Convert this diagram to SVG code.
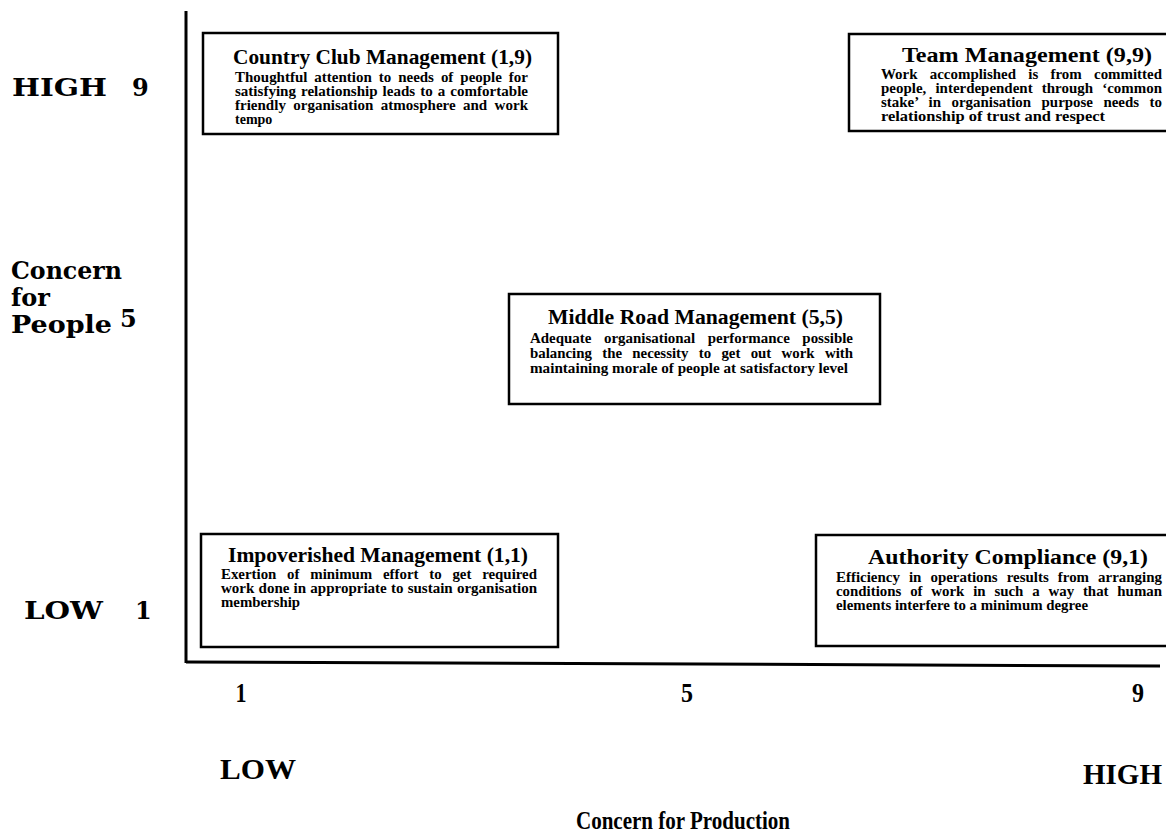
<svg xmlns="http://www.w3.org/2000/svg" width="1166" height="835" viewBox="0 0 1166 835">
  <style>
    .box { fill: #ffffff; stroke: #000000; stroke-width: 2.5; }
    .title { font-family: "Liberation Serif", "Times New Roman", serif; font-weight: bold; font-size: 20px; fill: #000; }
    .body { font-family: "Liberation Serif", "Times New Roman", serif; font-weight: bold; font-size: 14px; fill: #000; }
    .axis-label { font-family: "DejaVu Serif", serif; font-weight: bold; font-size: 24px; fill: #000; }
    .tick { font-family: "Liberation Serif", "Times New Roman", serif; font-weight: bold; font-size: 27px; fill: #000; }
    .scale-word { font-family: "Liberation Serif", "Times New Roman", serif; font-weight: bold; font-size: 29px; fill: #000; }
    .axis-title { font-family: "Liberation Serif", "Times New Roman", serif; font-weight: bold; font-size: 26px; fill: #000; }
    .axis { stroke: #000; stroke-width: 3; fill: none; }
  </style>
  <rect x="0" y="0" width="1166" height="835" fill="#ffffff"/>

  <!-- axes -->
  <g id="axes">
    <line class="axis" x1="186" y1="11" x2="186" y2="663"/>
    <path class="axis" d="M186 662 L1160 666"/>
  </g>

  <!-- vertical scale: concern for people -->
  <g id="y-labels">
    <text class="axis-label" x="12" y="96" textLength="95" lengthAdjust="spacingAndGlyphs">HIGH</text>
    <text class="axis-label" x="132" y="96">9</text>
    <text class="axis-label" x="11" y="279" textLength="111" lengthAdjust="spacingAndGlyphs">Concern</text>
    <text class="axis-label" x="11" y="306">for</text>
    <text class="axis-label" x="11" y="333" textLength="101" lengthAdjust="spacingAndGlyphs">People</text>
    <text class="axis-label" x="120" y="327">5</text>
    <text class="axis-label" x="24" y="619" textLength="79" lengthAdjust="spacingAndGlyphs">LOW</text>
    <text class="axis-label" x="135" y="619">1</text>
  </g>

  <!-- horizontal scale: concern for production -->
  <g id="x-labels">
    <text class="tick" x="241" y="702" text-anchor="middle" textLength="11" lengthAdjust="spacingAndGlyphs">1</text>
    <text class="tick" x="687" y="702" text-anchor="middle" textLength="12" lengthAdjust="spacingAndGlyphs">5</text>
    <text class="tick" x="1138" y="702" text-anchor="middle" textLength="12" lengthAdjust="spacingAndGlyphs">9</text>
    <text class="scale-word" x="220" y="779" textLength="76" lengthAdjust="spacingAndGlyphs">LOW</text>
    <text class="scale-word" x="1083" y="784" textLength="79" lengthAdjust="spacingAndGlyphs">HIGH</text>
    <text class="axis-title" x="576" y="829" textLength="214" lengthAdjust="spacingAndGlyphs">Concern for Production</text>
  </g>

  <g id="connectors"></g>

  <!-- (1,9) -->
  <g id="country-club">
    <rect class="box" x="203" y="33" width="355" height="101"/>
    <text class="title" x="233" y="64" textLength="299" lengthAdjust="spacingAndGlyphs">Country Club Management (1,9)</text>
    <text class="body" x="235" y="82" word-spacing="3" textLength="293" lengthAdjust="spacingAndGlyphs">Thoughtful attention to needs of people for</text>
    <text class="body" x="235" y="96" word-spacing="1.2" textLength="293" lengthAdjust="spacingAndGlyphs">satisfying relationship leads to a comfortable</text>
    <text class="body" x="235" y="110" word-spacing="3.4" textLength="293" lengthAdjust="spacingAndGlyphs">friendly organisation atmosphere and work</text>
    <text class="body" x="235" y="124">tempo</text>
  </g>

  <!-- (9,9) -->
  <g id="team">
    <rect class="box" x="849" y="34" width="330" height="97"/>
    <text class="title" x="902" y="62" textLength="250" lengthAdjust="spacingAndGlyphs">Team Management (9,9)</text>
    <text class="body" x="881" y="79" word-spacing="8" textLength="281" lengthAdjust="spacingAndGlyphs">Work accomplished is from committed</text>
    <text class="body" x="881" y="93" word-spacing="5.1" textLength="281" lengthAdjust="spacingAndGlyphs">people, interdependent through ‘common</text>
    <text class="body" x="881" y="107" word-spacing="6.3" textLength="281" lengthAdjust="spacingAndGlyphs">stake’ in organisation purpose needs to</text>
    <text class="body" x="881" y="121" textLength="224" lengthAdjust="spacingAndGlyphs">relationship of trust and respect</text>
  </g>

  <!-- (5,5) -->
  <g id="middle-road">
    <rect class="box" x="509" y="294" width="371" height="110"/>
    <text class="title" x="548" y="324" textLength="295" lengthAdjust="spacingAndGlyphs">Middle Road Management (5,5)</text>
    <text class="body" x="530" y="343" word-spacing="8.2" textLength="323" lengthAdjust="spacingAndGlyphs">Adequate organisational performance possible</text>
    <text class="body" x="530" y="358" word-spacing="6.2" textLength="323" lengthAdjust="spacingAndGlyphs">balancing the necessity to get out work with</text>
    <text class="body" x="530" y="373" textLength="318" lengthAdjust="spacingAndGlyphs">maintaining morale of people at satisfactory level</text>
  </g>

  <!-- (1,1) -->
  <g id="impoverished">
    <rect class="box" x="201" y="534" width="357" height="113"/>
    <text class="title" x="228" y="562" textLength="300" lengthAdjust="spacingAndGlyphs">Impoverished Management (1,1)</text>
    <text class="body" x="221" y="579" word-spacing="6.6" textLength="316" lengthAdjust="spacingAndGlyphs">Exertion of minimum effort to get required</text>
    <text class="body" x="221" y="593" word-spacing="0.4" textLength="316" lengthAdjust="spacingAndGlyphs">work done in appropriate to sustain organisation</text>
    <text class="body" x="221" y="607" textLength="79" lengthAdjust="spacingAndGlyphs">membership</text>
  </g>

  <!-- (9,1) -->
  <g id="authority-compliance">
    <rect class="box" x="816" y="535" width="360" height="111"/>
    <text class="title" x="868" y="564" textLength="280" lengthAdjust="spacingAndGlyphs">Authority Compliance (9,1)</text>
    <text class="body" x="836" y="582" word-spacing="5" textLength="326" lengthAdjust="spacingAndGlyphs">Efficiency in operations results from arranging</text>
    <text class="body" x="836" y="596" word-spacing="4.8" textLength="326" lengthAdjust="spacingAndGlyphs">conditions of work in such a way that human</text>
    <text class="body" x="836" y="610" textLength="252" lengthAdjust="spacingAndGlyphs">elements interfere to a minimum degree</text>
  </g>
</svg>
